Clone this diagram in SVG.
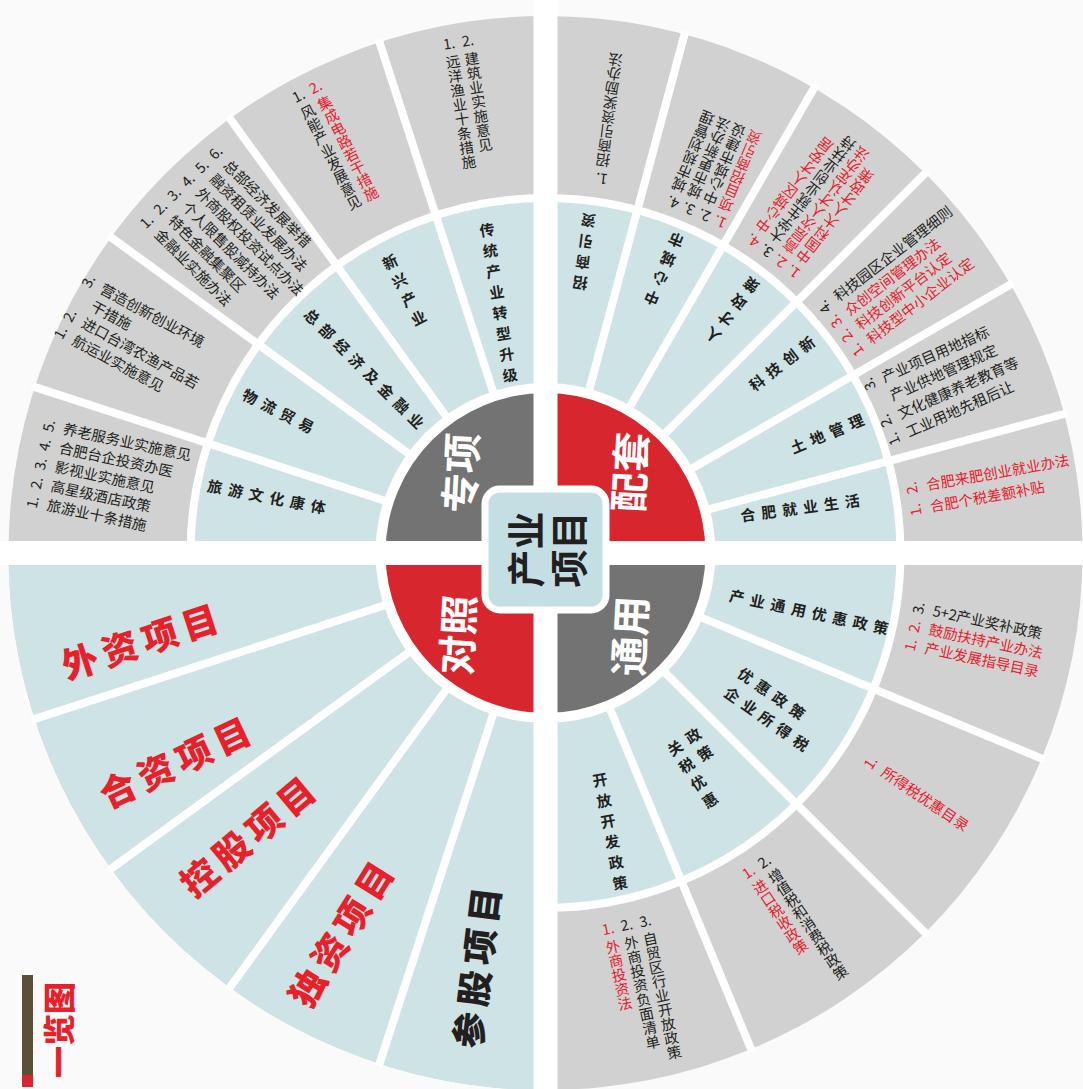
<svg xmlns="http://www.w3.org/2000/svg" width="1083" height="1089" viewBox="0 0 1083 1089">
<style>
.t{font-family:"Noto Sans CJK SC","Noto Sans",sans-serif;font-size:14.5px;fill:#231f20}
.r{fill:#e8202a}
.v{writing-mode:vertical-rl;text-orientation:upright}
.m{font-family:"Noto Sans CJK SC",sans-serif;font-size:15px;font-weight:700;fill:#231f20;letter-spacing:6px}
.b{font-family:"Noto Sans CJK SC",sans-serif;font-size:36px;font-weight:900;fill:#e8202a;letter-spacing:6px}
.q{font-family:"Noto Sans CJK SC",sans-serif;font-size:40px;font-weight:700;fill:#fff}
.sep line{stroke:#fff;stroke-width:8}
</style>
<rect width="1083" height="1089" fill="#fafafa"/>
<g id="rings">
<circle cx="545.5" cy="553" r="537" fill="#d1d1d1"/>
<circle cx="545.5" cy="553" r="355" fill="#cde3e5"/>
<path d="M545.5 553 L545.5 1090 A537 537 0 0 1 8.5 553 Z" fill="#cde3e5"/>
<path d="M190.5 553 A355 355 0 1 1 545.5 908" fill="none" stroke="#fff" stroke-width="8"/>
<circle cx="545.5" cy="553" r="170" fill="#fff"/>
<path d="M545.5 553 L385.5 553 A160 160 0 0 1 545.5 393 Z" fill="#737373"/>
<path d="M545.5 553 L545.5 393 A160 160 0 0 1 705.5 553 Z" fill="#d7262e"/>
<path d="M545.5 553 L705.5 553 A160 160 0 0 1 545.5 713 Z" fill="#737373"/>
<path d="M545.5 553 L545.5 713 A160 160 0 0 1 385.5 553 Z" fill="#d7262e"/>
</g>
<g id="connectors" class="sep">
<line x1="494.5" y1="396.1" x2="378.6" y2="39.4"/>
<line x1="448.5" y1="419.5" x2="228.1" y2="116.1"/>
<line x1="412" y1="456" x2="108.6" y2="235.6"/>
<line x1="388.6" y1="502" x2="31.9" y2="386.1"/>
<line x1="704.9" y1="510.3" x2="1067.1" y2="413.2"/>
<line x1="688.4" y1="470.5" x2="1013.1" y2="283"/>
<line x1="662.2" y1="436.3" x2="927.3" y2="171.2"/>
<line x1="628" y1="410.1" x2="815.5" y2="85.4"/>
<line x1="588.2" y1="393.6" x2="685.3" y2="31.4"/>
<line x1="697.9" y1="616.1" x2="1044.4" y2="759.7"/>
<line x1="662.2" y1="669.7" x2="927.3" y2="934.8"/>
<line x1="608.6" y1="705.4" x2="752.2" y2="1051.9"/>
<line x1="388.6" y1="604" x2="31.9" y2="719.9"/>
<line x1="412" y1="650" x2="108.6" y2="870.4"/>
<line x1="448.5" y1="686.5" x2="228.1" y2="989.9"/>
<line x1="494.5" y1="709.9" x2="378.6" y2="1066.6"/>
<rect x="533.5" y="0" width="24" height="1089" fill="#fff"/>
<rect x="0" y="541" width="1083" height="24" fill="#fff"/>
</g>
<g id="center">
<rect x="485" y="489" width="121" height="121" rx="15" fill="#c3dfe4" stroke="#fff" stroke-width="7"/>
<g transform="translate(545.5,549.5) rotate(-90)" font-family="Noto Sans CJK SC" font-size="38" font-weight="700" fill="#231f20" text-anchor="middle">
<text y="-6">产业</text><text y="37">项目</text>
</g>
</g>
<g id="q-zx"><text class="q" transform="translate(462,473) rotate(-87)" text-anchor="middle" y="14">专项</text></g>
<g id="q-pt"><text class="q" transform="translate(631,472) rotate(-87)" text-anchor="middle" y="14">配套</text></g>
<g id="q-ty"><text class="q" transform="translate(631,636) rotate(-87)" text-anchor="middle" y="14">通用</text></g>
<g id="q-dz"><text class="q" transform="translate(459,635) rotate(-87)" text-anchor="middle" y="14">对照</text></g>

<g id="m-tl1" transform="translate(215,487) rotate(11)"><text class="m" x="-7.5" y="5.5">旅游文化康体</text></g>
<g id="m-tl2" transform="translate(250,397) rotate(27)"><text class="m" x="-7.5" y="5.5">物流贸易</text></g>
<g id="m-tl3" transform="translate(312,317) rotate(45)"><text class="m" x="-7.5" y="5.5">总部经济及金融业</text></g>
<g id="m-tl4" transform="translate(390,262) rotate(-27)"><text class="m v r" x="0" y="-7.5">新兴产业</text></g>
<g id="m-tl5" transform="translate(487,230) rotate(-9)"><text class="m v" x="0" y="-7.5">传统产业转型升级</text></g>

<g id="m-tr1" transform="translate(580,283) rotate(187.5)"><text class="m v r" x="0" y="-7.5">招商引资</text></g>
<g id="m-tr2" transform="translate(652,298) rotate(202.5)"><text class="m v r" x="0" y="-7.5">中心城市</text></g>
<g id="m-tr3" transform="translate(713,335) rotate(217.5)"><text class="m v r" x="0" y="-7.5">人才政策</text></g>
<g id="m-tr4" transform="translate(757,383) rotate(-37.5)"><text class="m r" x="-7.5" y="5.5">科技创新</text></g>
<g id="m-tr5" transform="translate(798,446) rotate(-22.5)"><text class="m" x="-7.5" y="5.5">土地管理</text></g>
<g id="m-tr6" transform="translate(748,515) rotate(-7.5)"><text class="m r" x="-7.5" y="5.5">合肥就业生活</text></g>

<g id="m-br1" transform="translate(737,597) rotate(12)"><text class="m r" x="-7.5" y="5.5">产业通用优惠政策</text></g>
<g id="m-br2" transform="translate(732,695) rotate(35)"><text class="m r" x="-7.5" y="5.5">企业所得税</text><text class="m r" x="-7.5" y="-18">优惠政策</text></g>
<g id="m-br3" transform="translate(675,748) rotate(-33.75)"><text class="m v r" x="0" y="-7.5">关税优惠</text><text class="m v r" x="22" y="-7.5">政策</text></g>
<g id="m-br4" transform="translate(600,780) rotate(-11)"><text class="m v r" x="0" y="-7.5">开放开发政策</text></g>

<g id="bl1" transform="translate(80,662) rotate(-18)"><text class="b" x="-18" y="13">外资项目</text></g>
<g id="bl2" transform="translate(118,790) rotate(-25)"><text class="b" x="-18" y="13">合资项目</text></g>
<g id="bl3" transform="translate(200,878) rotate(-40)"><text class="b" x="-18" y="13">控股项目</text></g>
<g id="bl4" transform="translate(308,988) rotate(-58)"><text class="b" x="-18" y="13">独资项目</text></g>
<g id="bl5" transform="translate(470,1030) rotate(-83)"><text class="b" x="-18" y="13" style="fill:#231f20">参股项目</text></g>

<g id="o-tl1" transform="translate(46,510) rotate(12)">
<text class="t" y="0">旅游业十条措施</text><text class="t" y="-19.5">高星级酒店政策</text><text class="t" y="-39">影视业实施意见</text><text class="t" y="-58.5">合肥台企投资办医</text><text class="t" y="-78">养老服务业实施意见</text>
<text class="t" text-anchor="middle" transform="translate(-9.5,-5) rotate(-90)">1.</text><text class="t" text-anchor="middle" transform="translate(-9.5,-24.5) rotate(-90)">2.</text><text class="t" text-anchor="middle" transform="translate(-9.5,-44) rotate(-90)">3.</text><text class="t" text-anchor="middle" transform="translate(-9.5,-63.5) rotate(-90)">4.</text><text class="t" text-anchor="middle" transform="translate(-9.5,-83) rotate(-90)">5.</text>
</g>
<g id="o-tl2" transform="translate(71,344) rotate(28.5)">
<text class="t" y="0">航运业实施意见</text><text class="t" y="-19.5">进口台湾农渔产品若</text><text class="t" y="-39">干措施</text><text class="t" y="-58.5">营造创新创业环境</text>
<text class="t" text-anchor="middle" transform="translate(-9.5,-5) rotate(-90)">1.</text><text class="t" text-anchor="middle" transform="translate(-9.5,-24.5) rotate(-90)">2.</text><text class="t" text-anchor="middle" transform="translate(-9.5,-63.5) rotate(-90)">3.</text>
</g>
<g id="o-tl3" transform="translate(153.5,235.5) rotate(45)">
<text class="t" y="0">金融业实施办法</text><text class="t" y="-19.5">特色金融集聚区</text><text class="t" y="-39">个人限售股减持办法</text><text class="t" y="-58.5">外商股权投资试点办法</text><text class="t" y="-78">融资租赁业发展办法</text><text class="t" y="-97.5">总部经济发展举措</text>
<text class="t" text-anchor="middle" transform="translate(-9.5,-5) rotate(-90)">1.</text><text class="t" text-anchor="middle" transform="translate(-9.5,-24.5) rotate(-90)">2.</text><text class="t" text-anchor="middle" transform="translate(-9.5,-44) rotate(-90)">3.</text><text class="t" text-anchor="middle" transform="translate(-9.5,-63.5) rotate(-90)">4.</text><text class="t" text-anchor="middle" transform="translate(-9.5,-83) rotate(-90)">5.</text><text class="t" text-anchor="middle" transform="translate(-9.5,-102.5) rotate(-90)">6.</text>
</g>
<g id="o-tl4" transform="translate(304.6,105.3) rotate(-27)">
<text class="t v" x="0" y="0">风能产业发展意见</text><text class="t v r" x="19" y="0">集成电路若干措施</text>
<text class="t" x="-1" y="-6" text-anchor="middle">1.</text><text class="t r" x="18" y="-6" text-anchor="middle">2.</text>
</g>
<g id="o-tl5" transform="translate(451.8,54.6) rotate(-9)">
<text class="t v" x="0" y="0">远洋渔业十条措施</text><text class="t v" x="19" y="0">建筑业实施意见</text>
<text class="t" x="-1" y="-6" text-anchor="middle">1.</text><text class="t" x="18" y="-6" text-anchor="middle">2.</text>
</g>
<g id="o-tr1" transform="translate(602.1,167.4) rotate(187)">
<text class="t v" x="0" y="0">招商引资奖励办法</text>
<text class="t" x="-1" y="-6" text-anchor="middle">1.</text>
</g>
<g id="o-tr2" transform="translate(723.5,211) rotate(202.5)">
<text class="t v r" x="0" y="0">项目招商引资</text><text class="t v" x="17" y="0">中心城市建设</text><text class="t v" x="34" y="0">城市更新办法</text><text class="t v" x="51" y="0">城市规划管理</text>
<text class="t r" x="-1" y="-6" text-anchor="middle">1.</text><text class="t" x="16" y="-6" text-anchor="middle">2.</text><text class="t" x="33" y="-6" text-anchor="middle">3.</text><text class="t" x="50" y="-6" text-anchor="middle">4.</text>
</g>
<g id="o-tr3" transform="translate(799.5,262) rotate(217.5)">
<text class="t v r" x="0" y="0">中国科大人才政策</text><text class="t v r" x="17" y="0">高层次人才认定办法</text><text class="t v" x="34" y="0">大学生就业创业扶持</text><text class="t v r" x="51" y="0">中心城区人才安居</text>
<text class="t r" x="-1" y="-6" text-anchor="middle">1.</text><text class="t r" x="16" y="-6" text-anchor="middle">2.</text><text class="t" x="33" y="-6" text-anchor="middle">3.</text><text class="t r" x="50" y="-6" text-anchor="middle">4.</text>
</g>
<g id="o-tr4" transform="translate(871.7,344.9) rotate(-37.5)">
<text class="t r" y="0">科技型中小企业认定</text><text class="t r" y="-18">科技创新平台认定</text><text class="t r" y="-36">众创空间管理办法</text><text class="t" y="-54">科技园区企业管理细则</text>
<text class="t r" text-anchor="middle" transform="translate(-9.5,-5) rotate(-90)">1.</text><text class="t r" text-anchor="middle" transform="translate(-9.5,-23) rotate(-90)">2.</text><text class="t r" text-anchor="middle" transform="translate(-9.5,-41) rotate(-90)">3.</text><text class="t" text-anchor="middle" transform="translate(-9.5,-59) rotate(-90)">4.</text>
</g>
<g id="o-tr5" transform="translate(909,437.6) rotate(-24)">
<text class="t" y="0">工业用地先租后让</text><text class="t" y="-20">文化健康养老教育等</text><text class="t" y="-40">产业供地管理规定</text><text class="t" y="-60">产业项目用地指标</text>
<text class="t" text-anchor="middle" transform="translate(-9.5,-5) rotate(-90)">1.</text><text class="t" text-anchor="middle" transform="translate(-9.5,-25) rotate(-90)">2.</text><text class="t" text-anchor="middle" transform="translate(-9.5,-65) rotate(-90)">3.</text>
</g>
<g id="o-tr6" transform="translate(931,512) rotate(-10)">
<text class="t r" y="0">合肥个税差额补贴</text><text class="t r" y="-22">合肥来肥创业就业办法</text>
<text class="t r" text-anchor="middle" transform="translate(-9.5,-5) rotate(-90)">1.</text><text class="t r" text-anchor="middle" transform="translate(-9.5,-27) rotate(-90)">2.</text>
</g>
<g id="o-br1" transform="translate(924,653) rotate(12)">
<text class="t r" y="0">产业发展指导目录</text><text class="t r" y="-19">鼓励扶持产业办法</text><text class="t" y="-38">5+2产业奖补政策</text>
<text class="t r" text-anchor="middle" transform="translate(-9.5,-5) rotate(-90)">1.</text><text class="t r" text-anchor="middle" transform="translate(-9.5,-24) rotate(-90)">2.</text><text class="t" text-anchor="middle" transform="translate(-9.5,-43) rotate(-90)">3.</text>
</g>
<g id="o-br2" transform="translate(880,775) rotate(34)">
<text class="t r" y="0">所得税优惠目录</text>
<text class="t r" text-anchor="middle" transform="translate(-9.5,-5) rotate(-90)">1.</text>
</g>
<g id="o-br3" transform="translate(755.8,880.8) rotate(-34)">
<text class="t v r" x="0" y="0">进口税收政策</text><text class="t v" x="19" y="0">增值税和消费税政策</text>
<text class="t r" x="-1" y="-6" text-anchor="middle">1.</text><text class="t" x="18" y="-6" text-anchor="middle">2.</text>
</g>
<g id="o-br4" transform="translate(611.4,939.7) rotate(-12)">
<text class="t v r" x="0" y="0">外商投资法</text><text class="t v" x="19" y="0">外商投资负面清单</text><text class="t v" x="38" y="0">自贸区行业开放政策</text>
<text class="t r" x="-1" y="-6" text-anchor="middle">1.</text><text class="t" x="18" y="-6" text-anchor="middle">2.</text><text class="t" x="37" y="-6" text-anchor="middle">3.</text>
</g>
<g id="legend">
<rect x="22" y="975" width="11" height="100" fill="#5b5037"/>
<rect x="22" y="1075" width="11" height="12" fill="#d7262e"/>
<text transform="translate(60,1030) rotate(-90)" text-anchor="middle" y="11" font-family="Noto Sans CJK SC" font-size="32" font-weight="900" fill="#e8202a">一览图</text>
</g>
</svg>
